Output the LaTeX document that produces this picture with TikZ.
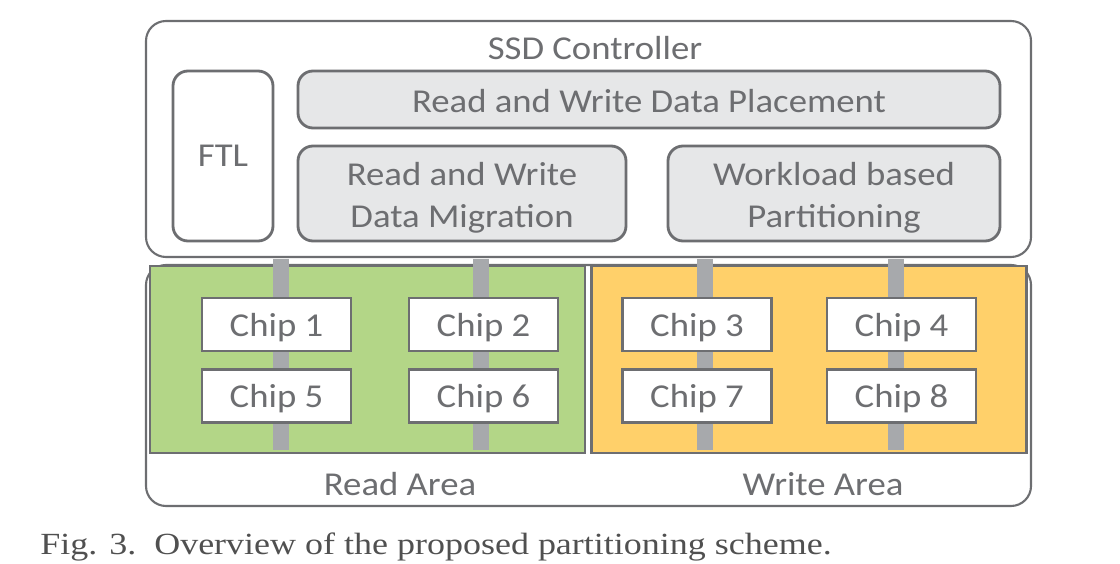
\documentclass[tikz,border=0pt]{standalone}
\usepackage{fontspec}
\setmainfont{Carlito}[FakeStretch=1.1]
\newfontfamily\capfont{Liberation Serif}[FakeStretch=1.17]
\usetikzlibrary{positioning}

\definecolor{edgegray}{HTML}{6D6E71}
\definecolor{boxgray}{HTML}{E6E7E8}
\definecolor{busgray}{HTML}{A7A9AC}
\definecolor{readgreen}{HTML}{B3D687}
\definecolor{writeorange}{HTML}{FFD06A}
\definecolor{capgray}{HTML}{505050}

\begin{document}
\begin{tikzpicture}[
  x=0.2mm, y=-0.2mm,
  every node/.style={font=\fontsize{19}{23.8}\selectfont,text=edgegray},
  panel/.style={draw=edgegray,line width=1.2pt,rounded corners=0.4cm,fill=white,
    minimum width=17.7cm},
  unit/.style={draw=edgegray,line width=1.6pt,rounded corners=0.3cm,fill=boxgray,align=center},
  area/.style={draw=edgegray,line width=1.6pt,minimum width=8.7cm,minimum height=3.74cm},
  chip/.style={draw=edgegray,line width=1.6pt,fill=white,minimum width=2.98cm,minimum height=1.06cm,
    text depth=0pt},
  bus/.style={busgray,line width=0.32cm}
]
  \useasboundingbox (0,0) rectangle (1120,564);

  % controller and flash
  \node[panel,minimum height=4.72cm] (ctrl) at (588.5,139) {};
  \node[panel,minimum height=4.82cm] (flash) at (588.5,385.5) {};
  \node (title) at (595,48) {SSD Controller};

  \node[unit,fill=white,minimum width=2.0cm,minimum height=3.4cm] (ftl) at (223,156) {FTL};
  \node[unit,minimum width=14.04cm,minimum height=1.14cm] (place) at (649,99.5) {};
  \node (placelbl) at (649,101.5) {Read and Write Data Placement};
  \node[unit,minimum width=6.56cm,minimum height=1.9cm] (migr) at (462,193.5) {};
  \node[align=center] (migrlbl) at (462,198) {Read and Write\\Data Migration};
  \node[unit,minimum width=6.64cm,minimum height=1.9cm] (part) at (834,193.5) {};
  \node[align=center] (partlbl) at (834,198) {Workload based\\Partitioning};

  % read and write areas
  \node[area,fill=readgreen] (read) at (367.5,359.5) {};
  \node[area,fill=writeorange] (write) at (809,359.5) {};

  \foreach \x [count=\i] in {281,481,705,896} {
    \coordinate (top\i) at (\x,259);
    \coordinate (bot\i) at (\x,450);
    \draw[bus] (top\i) -- (bot\i);
  }

  \node[chip] (c1) at (276.5,324.5) {Chip 1};
  \node[chip] (c2) at (483.5,324.5) {Chip 2};
  \node[chip] (c3) at (697,324.5) {Chip 3};
  \node[chip] (c4) at (901.5,324.5) {Chip 4};
  \node[chip,below=0.32cm of c1] (c5) {Chip 5};
  \node[chip,below=0.32cm of c2] (c6) {Chip 6};
  \node[chip,below=0.32cm of c3] (c7) {Chip 7};
  \node[chip,below=0.32cm of c4] (c8) {Chip 8};

  \node (readlbl) at (400,484) {Read Area};
  \node (writelbl) at (823,484) {Write Area};

  \node[anchor=base west,inner sep=0pt,font=\capfont\fontsize{17.5}{21}\selectfont,text=capgray] (cap)
    at (40,554) {Fig. 3.\ \ Overview of the proposed partitioning scheme.};
\end{tikzpicture}
\end{document}
